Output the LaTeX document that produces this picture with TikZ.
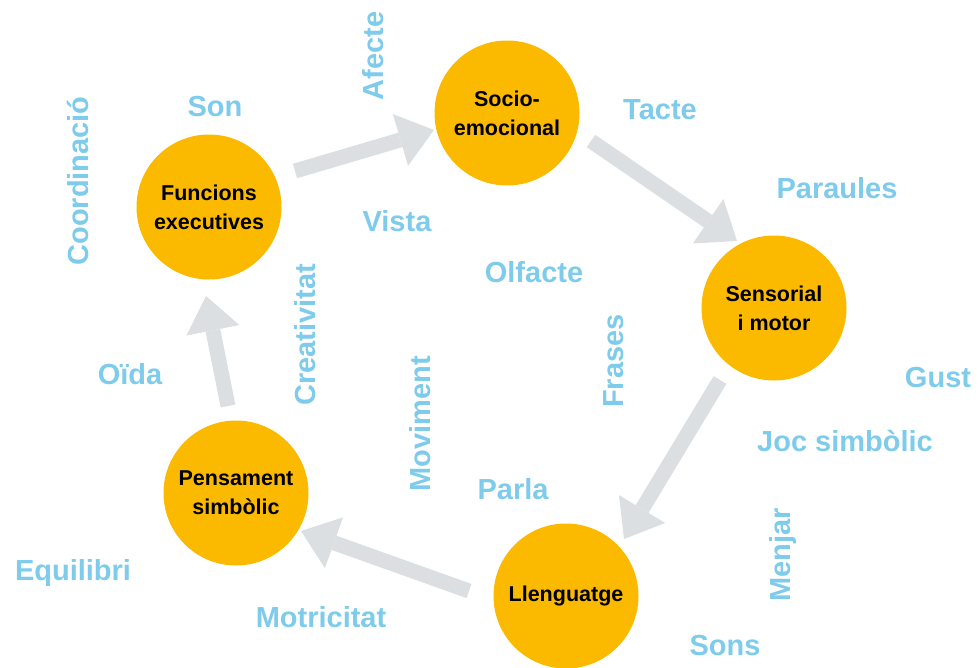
\documentclass[tikz,border=0pt]{standalone}
\usepackage{fontspec}
\setmainfont{Liberation Sans}
\usetikzlibrary{arrows.meta}
\definecolor{hub}{RGB}{251,185,0}
\definecolor{word}{RGB}{126,203,235}
\definecolor{arr}{RGB}{220,223,226}
\tikzset{
  hubnode/.style={circle, fill=hub, draw=none, minimum size=145pt, inner sep=0pt,
    align=center, font=\fontsize{21.5}{29}\selectfont\bfseries, text=black},
  wordnode/.style={anchor=base, inner sep=0pt, text=word, font=\fontsize{29}{32}\selectfont\bfseries},
  vword/.style={wordnode, rotate=90},
  bigarrow/.style={draw=arr, fill=arr, line width=15pt,
    -{Triangle[length=35pt, width=54pt, line width=0pt]}}
}
\begin{document}
\begin{tikzpicture}[x=1pt, y=-1pt]
\useasboundingbox (0,0) rectangle (980,667);
% hubs
\node[hubnode] (se) at (507,113) {Socio-\\emocional};
\node[hubnode] (fe) at (209,207) {Funcions\\executives};
\node[hubnode] (sm) at (774,308) {Sensorial\\i motor};
\node[hubnode] (ps) at (236,493) {Pensament\\simbòlic};
\node[hubnode] (ll) at (566,596) {Llenguatge};
% arrow ends
\coordinate (a1t) at (295,171); \coordinate (a1h) at (434,130);
\coordinate (a2t) at (591,141); \coordinate (a2h) at (737,241);
\coordinate (a3t) at (720,380); \coordinate (a3h) at (624,539);
\coordinate (a4t) at (469,591); \coordinate (a4h) at (301,531);
\coordinate (a5t) at (228,406); \coordinate (a5h) at (206,296);
\draw[bigarrow] (a1t) -- (a1h);
\draw[bigarrow] (a2t) -- (a2h);
\draw[bigarrow] (a3t) -- (a3h);
\draw[bigarrow] (a4t) -- (a4h);
\draw[bigarrow] (a5t) -- (a5h);
% words
\node[wordnode] (w1) at (215,116) {Son};
\node[wordnode] (w2) at (660,119) {Tacte};
\node[wordnode] (w3) at (837,198) {Paraules};
\node[wordnode] (w4) at (397,231) {Vista};
\node[wordnode] (w5) at (534,282) {Olfacte};
\node[wordnode] (w6) at (938,387) {Gust};
\node[wordnode] (w7) at (130,384) {Oïda};
\node[wordnode] (w8) at (845,451) {Joc simbòlic};
\node[wordnode] (w9) at (513,499) {Parla};
\node[wordnode] (w10) at (73,580) {Equilibri};
\node[wordnode] (w11) at (321,627) {Motricitat};
\node[wordnode] (w12) at (725,655) {Sons};
\node[vword] (v1) at (383,56) {Afecte};
\node[vword] (v2) at (88,181) {Coordinació};
\node[vword] (v3) at (315,335) {Creativitat};
\node[vword] (v4) at (430,424) {Moviment};
\node[vword] (v5) at (623,361) {Frases};
\node[vword] (v6) at (790,555) {Menjar};
\end{tikzpicture}
\end{document}
